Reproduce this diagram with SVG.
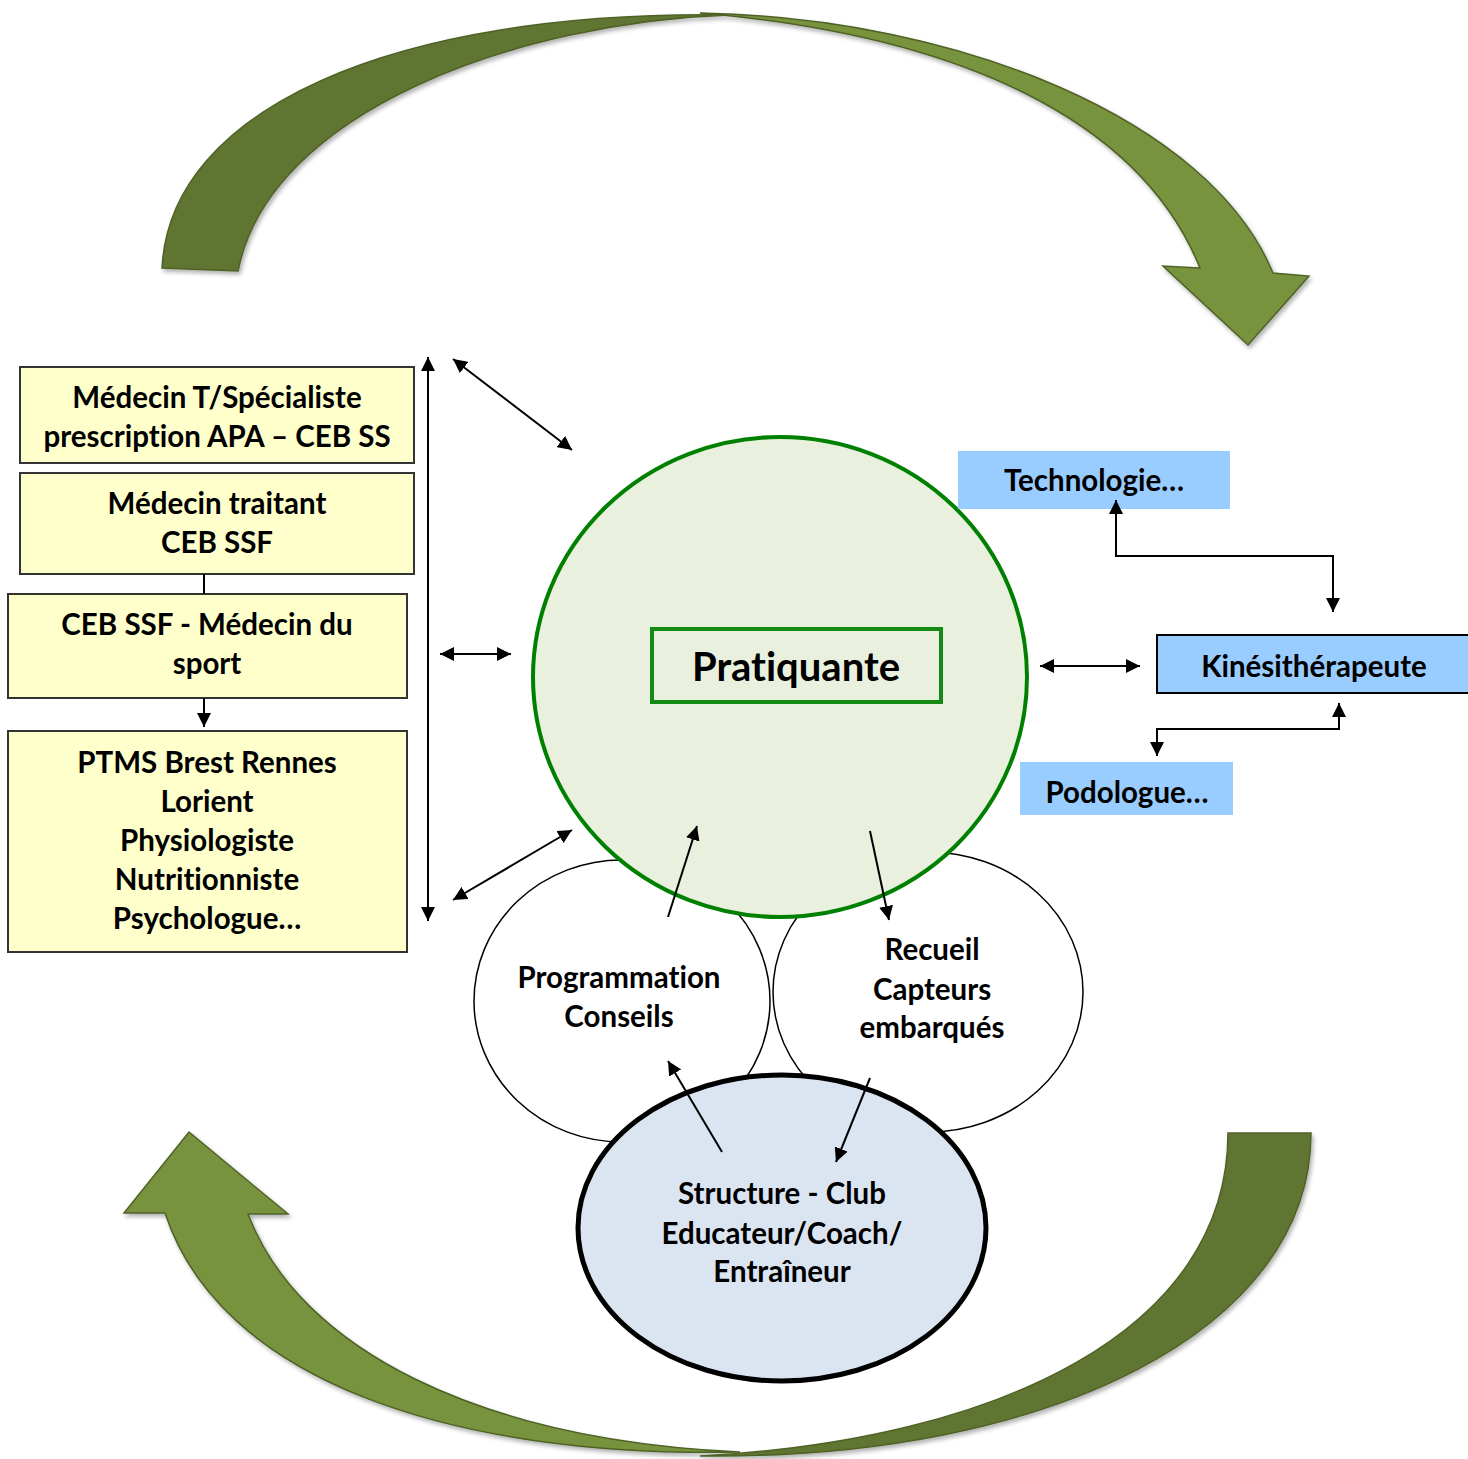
<svg xmlns="http://www.w3.org/2000/svg" width="1468" height="1459" viewBox="0 0 1468 1459">
<defs>
<style>
.t{font-family:Lato,"Liberation Sans",sans-serif;font-weight:bold;font-size:29.5px;fill:#000;text-anchor:middle;font-variant-ligatures:none;font-feature-settings:"liga" 0,"clig" 0}
.ybox{fill:#ffffcc;stroke:#333;stroke-width:2}
.bbox{fill:#99ccff}
.ln{fill:none;stroke:#000;stroke-width:2}
.dark{fill:#617530;stroke:#4f6228;stroke-width:1.5}
.light{fill:#77933c;stroke:#4f6228;stroke-width:1.5}
</style>
<marker id="ah2" viewBox="0 0 10 10" refX="10" refY="5" markerWidth="14" markerHeight="14" orient="auto-start-reverse" markerUnits="userSpaceOnUse">
<path d="M0,0 L10,5 L0,10 Z" fill="#000"/>
</marker>
<filter id="sh" x="-5%" y="-5%" width="110%" height="110%">
<feDropShadow dx="2" dy="3" stdDeviation="2" flood-color="#000" flood-opacity="0.3"/>
</filter>
</defs>
<rect width="1468" height="1459" fill="#fff"/>

<g id="cycle-top" filter="url(#sh)">
<path class="dark" d="M162,268 C170,110 390,10 730,15 C520,22 270,110 238,271 Z"/>
<path class="light" d="M700,13 C960,18 1210,120 1273,273 L1309,276 L1248,345 L1163,266 L1200,268 C1140,120 960,35 700,13 Z"/>
</g>
<g id="cycle-bottom" filter="url(#sh)">
<path class="light" d="M165,1213 L124,1213 L189,1132 L288,1214 L248,1214 C300,1350 480,1440 740,1452 C450,1458 220,1380 165,1213 Z"/>
<path class="dark" d="M1228,1133 L1311,1133 C1311,1330 1050,1460 700,1456 C1000,1440 1228,1330 1228,1133 Z"/>
</g>

<g id="node-programmation">
<ellipse cx="622" cy="1001" rx="148" ry="141" fill="#fff" stroke="#000" stroke-width="1.5"/>
<text class="t" x="619" y="988">Programmation</text>
<text class="t" x="619" y="1027">Conseils</text>
</g>
<g id="node-recueil">
<ellipse cx="928" cy="992" rx="155" ry="140" fill="#fff" stroke="#000" stroke-width="1.5"/>
<text class="t" x="932" y="960">Recueil</text>
<text class="t" x="932" y="1000">Capteurs</text>
<text class="t" x="932" y="1038">embarqués</text>
</g>
<g id="node-pratiquante">
<ellipse cx="780" cy="677" rx="247" ry="240" fill="#e9f0dd" stroke="#008000" stroke-width="4"/>
<rect x="652" y="629" width="289" height="73" fill="#e9f0dd" stroke="#148a14" stroke-width="4"/>
<text class="t" x="796" y="681" style="font-size:40px">Pratiquante</text>
</g>
<g id="node-structure">
<ellipse cx="782" cy="1228" rx="204" ry="153" fill="#dbe5f1" stroke="#000" stroke-width="5"/>
<text class="t" x="782" y="1204">Structure - Club</text>
<text class="t" x="782" y="1244">Educateur/Coach/</text>
<text class="t" x="782" y="1282">Entraîneur</text>
</g>

<g id="node-medecin-specialiste">
<rect class="ybox" x="20" y="367" width="394" height="96"/>
<text class="t" x="217" y="408">Médecin T/Spécialiste</text>
<text class="t" x="217" y="447">prescription APA – CEB SS</text>
</g>
<g id="node-medecin-traitant">
<rect class="ybox" x="20" y="473" width="394" height="101"/>
<text class="t" x="217" y="514">Médecin traitant</text>
<text class="t" x="217" y="553">CEB SSF</text>
</g>
<g id="node-medecin-sport">
<rect class="ybox" x="8" y="594" width="399" height="104"/>
<text class="t" x="207" y="635">CEB SSF - Médecin du</text>
<text class="t" x="207" y="674">sport</text>
</g>
<g id="node-ptms">
<rect class="ybox" x="8" y="731" width="399" height="221"/>
<text class="t" x="207" y="773">PTMS Brest Rennes</text>
<text class="t" x="207" y="812">Lorient</text>
<text class="t" x="207" y="851">Physiologiste</text>
<text class="t" x="207" y="890">Nutritionniste</text>
<text class="t" x="207" y="929">Psychologue…</text>
</g>

<g id="node-technologie">
<rect class="bbox" x="958" y="451" width="272" height="58"/>
<text class="t" x="1094" y="491">Technologie…</text>
</g>
<g id="node-kine">
<rect class="bbox" x="1157" y="635" width="313" height="58" stroke="#000" stroke-width="2"/>
<text class="t" x="1314" y="677">Kinésithérapeute</text>
</g>
<g id="node-podologue">
<rect class="bbox" x="1020" y="762" width="213" height="53"/>
<text class="t" x="1127" y="803">Podologue…</text>
</g>

<g id="connectors">
<line class="ln" x1="204" y1="574" x2="204" y2="594"/>
<line class="ln" x1="204" y1="698" x2="204" y2="727" marker-end="url(#ah2)"/>
<line class="ln" x1="428" y1="357" x2="428" y2="921" marker-start="url(#ah2)" marker-end="url(#ah2)"/>
<line class="ln" x1="453" y1="359" x2="572" y2="450" marker-start="url(#ah2)" marker-end="url(#ah2)"/>
<line class="ln" x1="440" y1="654" x2="511" y2="654" marker-start="url(#ah2)" marker-end="url(#ah2)"/>
<line class="ln" x1="453" y1="900" x2="572" y2="830" marker-start="url(#ah2)" marker-end="url(#ah2)"/>
<line class="ln" x1="668" y1="917" x2="697" y2="826" marker-end="url(#ah2)"/>
<line class="ln" x1="870" y1="831" x2="889" y2="920" marker-end="url(#ah2)"/>
<line class="ln" x1="722" y1="1152" x2="668" y2="1061" marker-end="url(#ah2)"/>
<line class="ln" x1="870" y1="1078" x2="836" y2="1162" marker-end="url(#ah2)"/>
<line class="ln" x1="1040" y1="666" x2="1140" y2="666" marker-start="url(#ah2)" marker-end="url(#ah2)"/>
<polyline class="ln" points="1116,500 1116,556 1333,556 1333,612" marker-start="url(#ah2)" marker-end="url(#ah2)"/>
<polyline class="ln" points="1339,703 1339,729 1157,729 1157,756" marker-start="url(#ah2)" marker-end="url(#ah2)"/>
</g>
</svg>
